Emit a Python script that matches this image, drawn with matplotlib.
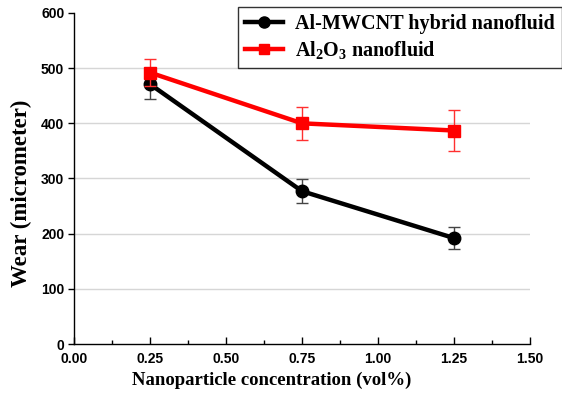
import matplotlib
matplotlib.use("Agg")
import matplotlib.pyplot as plt
from matplotlib.lines import Line2D
from matplotlib.ticker import MultipleLocator

plt.rcParams["mathtext.fontset"] = "custom"
plt.rcParams["mathtext.rm"] = "Liberation Serif:bold"
plt.rcParams["mathtext.bf"] = "Liberation Serif:bold"
plt.rcParams["mathtext.it"] = "Liberation Serif:bold"

conc = [0.25, 0.75, 1.25]
hybrid_wear = [471, 277, 192]
hybrid_err = [27, 22, 20]
al2o3_wear = [492, 400, 387]
al2o3_err = [25, 30, 37]

x_ticks = [0.00, 0.25, 0.50, 0.75, 1.00, 1.25, 1.50]
y_ticks = [0, 100, 200, 300, 400, 500, 600]

fig = plt.figure(figsize=(5.62, 4.0), dpi=100)
ax = fig.add_axes([0.1317, 0.1400, 0.8113, 0.8275])

for y in y_ticks[1:-1]:
    ax.axhline(y, color="#d6d6d6", lw=1.0, zorder=0)

ax.errorbar(conc, hybrid_wear, yerr=hybrid_err, color="black", lw=3.2,
            marker="o", ms=9, ecolor="#444444", elinewidth=1.0, capsize=4,
            capthick=1.0, zorder=3)
ax.errorbar(conc, al2o3_wear, yerr=al2o3_err, color="#ff0000", lw=3.2,
            marker="s", ms=8.5, ecolor="#ff3030", elinewidth=1.0, capsize=4,
            capthick=1.0, zorder=4)

ax.set_xlim(0, 1.5)
ax.set_ylim(0, 600)
ax.set_xticks(x_ticks)
ax.set_xticklabels([f"{v:.2f}" for v in x_ticks])
ax.set_yticks(y_ticks)
ax.xaxis.set_minor_locator(MultipleLocator(0.125))

for s in ("top", "right"):
    ax.spines[s].set_visible(False)
for s in ("left", "bottom"):
    ax.spines[s].set_linewidth(1.0)

ax.tick_params(axis="x", which="major", direction="in", length=5, width=1,
               pad=6)
ax.tick_params(axis="x", which="minor", direction="in", length=3, width=1)
ax.tick_params(axis="y", which="major", direction="out", length=4, width=1,
               pad=3)
for lab in ax.get_xticklabels() + ax.get_yticklabels():
    lab.set_fontfamily("Liberation Sans")
    lab.set_fontweight("bold")
    lab.set_fontsize(10)

ax.set_xlabel("Nanoparticle concentration (vol%)", family="Liberation Serif",
              weight="bold", fontsize=13.5, labelpad=3)
ax.xaxis.set_label_coords(0.434, -0.085)
ax.set_ylabel("Wear (micrometer)", family="Liberation Serif",
              weight="bold", fontsize=16.5, labelpad=8)
ax.yaxis.set_label_coords(-0.092, 0.456)

handles = [
    Line2D([], [], color="black", lw=3.2, marker="o", ms=8),
    Line2D([], [], color="#ff0000", lw=3.2, marker="s", ms=7.5),
]
labels = ["Al-MWCNT hybrid nanofluid", r"Al$_2$O$_3$ nanofluid"]
leg = fig.legend(handles, labels, loc="upper left",
                 bbox_to_anchor=(0.423, 0.983),
                 frameon=True, fancybox=False, edgecolor="black",
                 prop={"family": "Liberation Serif", "weight": "bold",
                       "size": 14.5},
                 handlelength=1.9, borderpad=0.35, labelspacing=0.25,
                 handletextpad=0.6, borderaxespad=0)
leg.get_frame().set_linewidth(1.0)

fig.savefig("out.png", dpi=100)
